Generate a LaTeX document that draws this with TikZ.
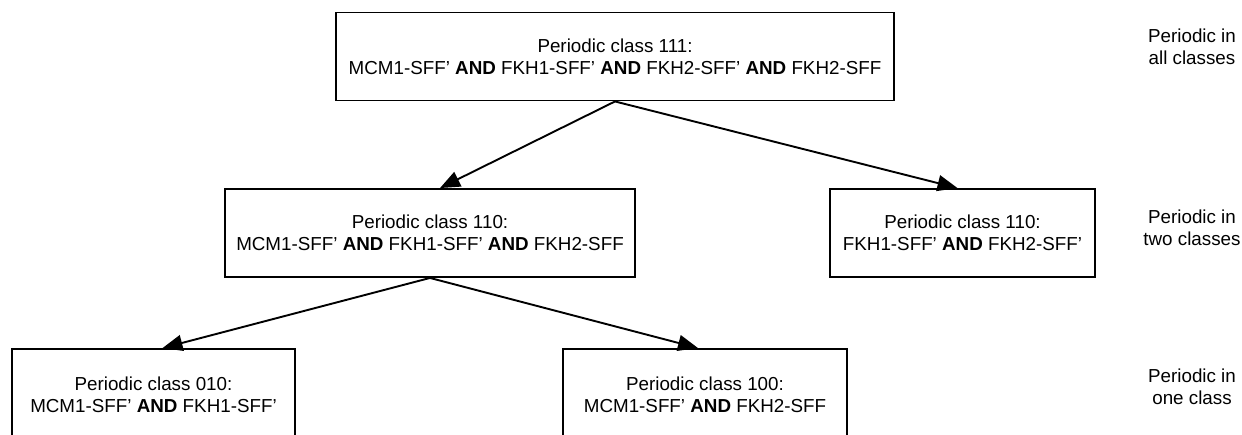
\documentclass[tikz,border=0pt]{standalone}
\usepackage{fontspec}
\setmainfont{Liberation Sans}
\usetikzlibrary{arrows.meta,positioning}
\newcommand{\AND}{\textbf{AND}}

\begin{document}
\begin{tikzpicture}[x=1pt,y=-1pt,->,>={Triangle[length=20pt,width=16pt]},line width=1.9pt,
   every node/.style={font=\fontsize{18.8}{22}\selectfont,align=center},
   classbox/.style={draw,inner sep=0pt,line width=1.9pt,minimum height=88pt},
   tier/.style={inner sep=0pt}]
  \clip (0,0) rectangle (1242,434);
  % class boxes
  \node[classbox,minimum width=558pt] (c111) at (615,56.5) {Periodic class 111:\\MCM1-SFF’ \AND{} FKH1-SFF’ \AND{} FKH2-SFF’ \AND{} FKH2-SFF};
  \node[classbox,minimum width=410pt] (c110a) at (430,233) {Periodic class 110:\\MCM1-SFF’ \AND{} FKH1-SFF’ \AND{} FKH2-SFF};
  \node[classbox,minimum width=265pt] (c110b) at (962.5,233) {Periodic class 110:\\FKH1-SFF’ \AND{} FKH2-SFF’};
  \node[classbox,minimum width=283pt,minimum height=92pt] (c010) at (153.5,395) {Periodic class 010:\\MCM1-SFF’ \AND{} FKH1-SFF’};
  \node[classbox,minimum width=284pt,minimum height=92pt] (c100) at (705,395) {Periodic class 100:\\MCM1-SFF’ \AND{} FKH2-SFF};
  % tiers
  \node[tier] (all) at (1192,47) {Periodic in\\all classes};
  \node[tier] (two) at (1192,228) {Periodic in\\two classes};
  \node[tier] (one) at (1192,387) {Periodic in\\one class};
  % arrows
  \draw (c111.south) -- ([xshift=10pt]c110a.north);
  \draw (c111.south) -- ([xshift=-5pt]c110b.north);
  \draw (c110a.south) -- ([xshift=9pt]c010.north);
  \draw (c110a.south) -- ([xshift=-7pt]c100.north);
\end{tikzpicture}
\end{document}
